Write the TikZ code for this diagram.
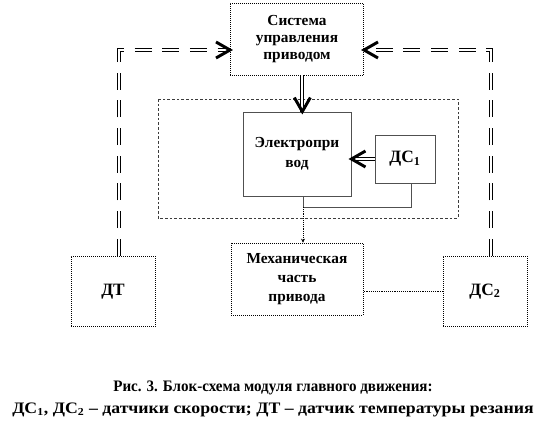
\documentclass[tikz,border=0pt]{standalone}
\usepackage{fontspec}
\setmainfont{Liberation Serif}
\usetikzlibrary{arrows.meta,calc}

\tikzset{
  blk/.style={draw=black, densely dotted, line width=0.5pt, inner sep=1pt, align=center, font=\bfseries\fontsize{11.5}{13}\selectfont},
  solidblk/.style={draw={rgb,255:red,80;green,80;blue,80}, solid, line width=0.7pt, inner sep=1pt, align=center, font=\bfseries\fontsize{11.5}{15}\selectfont},
  bigtxt/.style={font=\bfseries\fontsize{13}{15}\selectfont},
  dbl/.style={double, double distance=1.6pt, line width=0.6pt},
  dbldash/.style={dbl, dash pattern=on 12.75pt off 8pt},
  chev/.pic={\draw [line width=2.2pt, line join=miter, solid] (-14,-8) -- (0,0) -- (-14,8);},
}

\begin{document}
\begin{tikzpicture}[x=0.75pt,y=0.75pt,yscale=-1,xscale=1]
\useasboundingbox (0,0) rectangle (558,438);

%Shape: Region
\draw [draw={rgb,255:red,60;green,60;blue,60}, line width=0.5pt, dash pattern=on 2pt off 1.5pt] (158,99) rectangle (458,218);

% Blocks
\node [blk, minimum width=100pt, minimum height=54pt] (sys) at (297,39) {Система\\управления\\приводом};
\node [solidblk, minimum width=81pt, minimum height=63pt] (ep) at (297,154) {Электропри\\вод};
\node [solidblk, bigtxt, minimum width=45pt, minimum height=36pt] (dc1) at (405,159) {ДС$_{\mathbf 1}$};
\node [blk, minimum width=99pt, minimum height=54pt, font=\bfseries\fontsize{11.5}{14.5}\selectfont] (mech) at (297,279) {Механическая\\часть\\привода};
\node [blk, bigtxt, minimum width=63pt, minimum height=53pt] (dt) at (113,291.5) {ДТ};
\node [blk, bigtxt, minimum width=63pt, minimum height=53pt] (dc2) at (485,291.5) {ДС$_{\mathbf 2}$};
\coordinate (j) at (303,207);

%Straight Lines: feedback
\draw [dbldash] ([xshift=4.5pt]dt.north) |- ([yshift=8.25pt]sys.west);
\path ([yshift=8.25pt]sys.west) pic {chev};
\draw [dbldash] ([xshift=4.5pt]dc2.north) |- ([yshift=8.25pt]sys.east);
\path ([yshift=8.25pt]sys.east) pic [rotate=180] {chev};

%Straight Lines: control
\draw [dbl] ([xshift=4pt]sys.south) -- ([xshift=4pt]ep.north);
\path ([xshift=4pt]ep.north) pic [rotate=-90] {chev};
\draw [dbl] (dc1.west) -- (dc1.west -| ep.east);
\path (dc1.west -| ep.east) pic [rotate=180] {chev};

%Straight Lines: shaft
\draw [draw={rgb,255:red,80;green,80;blue,80}, line width=0.7pt] ([xshift=4.5pt]ep.south) -- (j) -| ([xshift=4.5pt]dc1.south);
\draw [densely dotted, -{Stealth[length=3pt,width=3pt]}] (j) -- (j |- mech.north);
\draw [densely dotted] (dc2.west) -- (dc2.west -| mech.east);

% Text Node
\node [font=\bfseries\fontsize{12}{16}\selectfont] (cap1) at (273,388) {\scalebox{0.94}[1]{Рис. 3. Блок-схема модуля главного движения:}};
\node [font=\bfseries\fontsize{12}{16}\selectfont] (cap2) at (273,410) {\scalebox{1.11}[1]{ДС$_{\mathbf 1}$, ДС$_{\mathbf 2}$ – датчики скорости; ДТ – датчик температуры резания}};

\end{tikzpicture}
\end{document}
